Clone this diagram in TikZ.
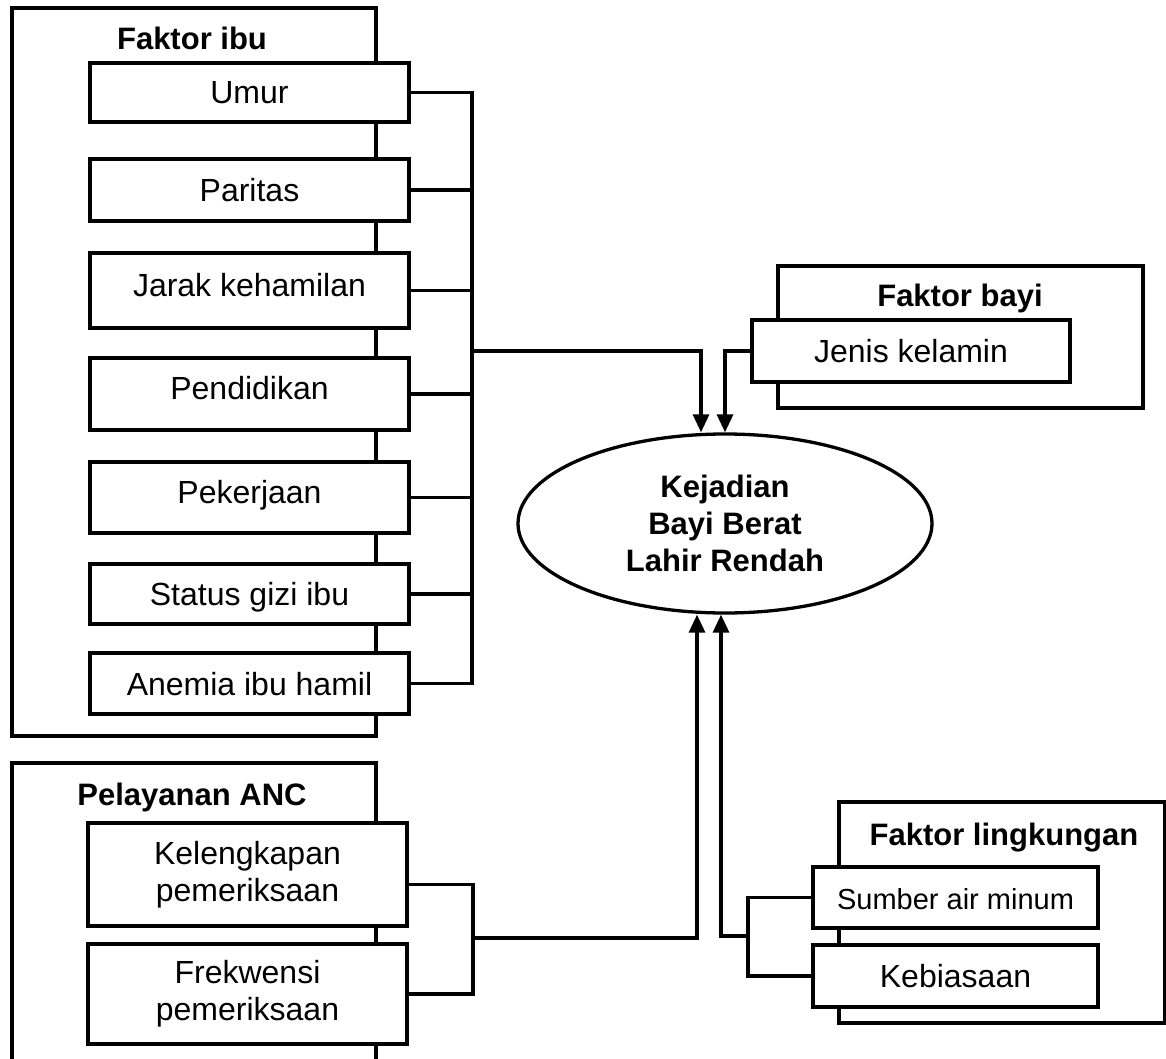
\documentclass[tikz,border=0pt]{standalone}
\usepackage{fontspec}
\setmainfont{Liberation Sans}
\usepackage{tikz}
\usetikzlibrary{shapes.geometric}
\usetikzlibrary{arrows.meta}

\begin{document}
\begin{tikzpicture}[x=1pt,y=-1pt,line width=3.3pt,
	kotak/.style={draw,fill=white,rectangle,inner sep=0pt,align=center,font=\fontsize{32}{37}\selectfont},
	satu/.style={text height=23pt,text depth=0pt},
	luar/.style={draw,rectangle,inner sep=0pt},
	judul/.style={inner sep=0pt,text height=23pt,text depth=0pt,font=\bfseries\fontsize{31}{37}\selectfont},
	panah/.style={-{Triangle[width=16pt,length=18pt]}}]
			\useasboundingbox (0,0) rectangle (1166,1059);
			\node[luar,minimum width=364,minimum height=728] (ibu) at (194,372) {};
			\node[luar,minimum width=365,minimum height=142] (bayi) at (960.5,337) {};
			\node[luar,minimum width=326,minimum height=221] (lingkungan) at (1002,912.5) {};
			\node[luar,minimum width=364,minimum height=340] (anc) at (194,933) {};
			\node[judul] (tibu) at (192,38) {Faktor ibu};
			\node[judul] (tbayi) at (960,295) {Faktor bayi};
			\node[judul] (tling) at (1004,834) {Faktor lingkungan};
			\node[judul] (tanc) at (192,794) {Pelayanan ANC};
			\node[kotak,satu,minimum width=319,minimum height=59] (umur) at (249.5,92.5) {Umur};
			\node[kotak,satu,minimum width=319,minimum height=62] (paritas) at (249.5,190) {Paritas};
			\node[kotak,satu,minimum width=319,minimum height=75,text depth=12pt] (jarak) at (249.5,290.5) {Jarak kehamilan};
			\node[kotak,satu,minimum width=319,minimum height=72,text depth=12pt] (pendidikan) at (249.5,394) {Pendidikan};
			\node[kotak,satu,minimum width=319,minimum height=71,text depth=12pt] (pekerjaan) at (249.5,497.5) {Pekerjaan};
			\node[kotak,satu,minimum width=319,minimum height=60] (status) at (249.5,594) {Status gizi ibu};
			\node[kotak,satu,minimum width=319,minimum height=61] (anemia) at (249.5,683.5) {Anemia ibu hamil};
			\node[kotak,minimum width=319,minimum height=103] (kelengkapan) at (247.5,874.5) {Kelengkapan\\pemeriksaan};
			\node[kotak,minimum width=319,minimum height=100] (frekwensi) at (247.5,994) {Frekwensi\\pemeriksaan};
			\node[kotak,satu,minimum width=318,minimum height=62] (jenis) at (911,351) {Jenis kelamin};
			\node[kotak,satu,minimum width=285,minimum height=61,font=\fontsize{29}{35}\selectfont] (sumber) at (955.5,897.5) {Sumber air minum};
			\node[kotak,satu,minimum width=285,minimum height=62] (kebiasaan) at (955.5,976) {Kebiasaan};
			\node[draw,ellipse,fill=white,inner sep=0pt,minimum width=414,minimum height=179,align=center,font=\bfseries\fontsize{31}{37}\selectfont] (bblr) at (725,523.5) {Kejadian\\Bayi Berat\\Lahir Rendah};
			\coordinate (bus) at (472,0);
			\draw (umur.east) -| (anemia.east -| bus) -- (anemia.east);
			\foreach \k in {paritas,jarak,pendidikan,pekerjaan,status}
				\draw (\k.east) -- (\k.east -| bus);
			\coordinate (cabang) at (472,351);
			\draw[panah] (cabang) -| ([xshift=-24pt]bblr.north);
			\draw[panah] (jenis.west) -| (bblr.north);
			\coordinate (busanc) at (473,0);
			\draw ([yshift=-10pt]kelengkapan.east) -| (frekwensi.east -| busanc) -- (frekwensi.east);
			\coordinate (canc) at (473,938);
			\draw[panah] (canc) -| ([xshift=-28pt]bblr.south);
			\coordinate (busling) at (748,0);
			\draw (sumber.west) -| (kebiasaan.west -| busling) -- (kebiasaan.west);
			\coordinate (cling) at (748,936);
			\draw[panah] (cling) -| ([xshift=-4pt]bblr.south);
		\end{tikzpicture}
\end{document}
